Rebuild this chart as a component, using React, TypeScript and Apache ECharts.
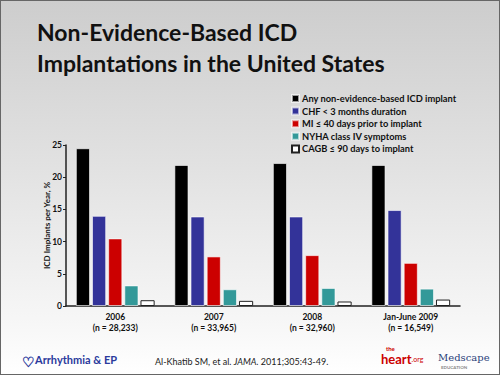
import React, { useEffect, useRef } from "react";
import * as echarts from "echarts";

const categories = ["2006\n(n = 28,233)", "2007\n(n = 33,965)", "2008\n(n = 32,960)", "Jan-June 2009\n(n = 16,549)"];
const seriesNames = [
  "Any non-evidence-based ICD implant",
  "CHF < 3 months duration",
  "MI \u2264 40 days prior to implant",
  "NYHA class IV symptoms",
  "CAGB \u2264 90 days to implant",
];
const anyNonEvidence = [24.5, 21.9, 22.2, 21.9];
const chfShort = [14.0, 13.9, 13.9, 14.9];
const miRecent = [10.5, 7.7, 7.9, 6.7];
const nyhaIV = [3.2, 2.6, 2.8, 2.7];
const cabgRecent = [0.9, 0.8, 0.7, 1.0];
const seriesValues = [anyNonEvidence, chfShort, miRecent, nyhaIV, cabgRecent];
const seriesColors = ["#000000", "#333399", "#cc0000", "#339999", "#ffffff"];

const FONT = "Lato, 'Open Sans', sans-serif";

export default function App() {
  const ref = useRef<HTMLDivElement>(null);
  useEffect(() => {
    if (!ref.current) return;
    const chart = echarts.init(ref.current, undefined, { renderer: "svg" });
    chart.setOption({
      animation: false,
      textStyle: { fontFamily: FONT },
      grid: { left: 66, right: 40, top: 145, bottom: 69 },
      legend: {
        orient: "vertical",
        left: 286,
        top: 89,
        itemWidth: 7,
        itemHeight: 7,
        itemGap: 3.6,
        icon: "rect",
        textStyle: { fontFamily: FONT, fontSize: 9.3, fontWeight: "bold", color: "#111", padding: [0, 0, 0, -2] },
        data: seriesNames,
      },
      xAxis: {
        type: "category",
        data: categories,
        axisLine: { lineStyle: { color: "#222", width: 1.5 } },
        axisTick: { show: false },
        axisLabel: { fontFamily: FONT, fontSize: 8.5, fontWeight: "bold", color: "#111", lineHeight: 11, margin: 5 },
      },
      yAxis: {
        type: "value",
        min: 0,
        max: 25,
        interval: 5,
        name: "ICD Implants per Year, %",
        nameLocation: "middle",
        nameGap: 15,
        nameMoveOverlap: false,
        nameTextStyle: { fontFamily: FONT, fontSize: 8, fontWeight: "bold", color: "#111" },
        axisLine: { show: true, lineStyle: { color: "#222", width: 1.5 } },
        axisTick: { show: true, length: 3, lineStyle: { color: "#222" } },
        splitLine: { show: false },
        axisLabel: { fontFamily: FONT, fontSize: 8.5, fontWeight: "bold", color: "#111", margin: 4 },
      },
      series: seriesNames.map((name, i) => ({
        name,
        type: "bar",
        data: seriesValues[i],
        barGap: "14%",
        barCategoryGap: "20%",
        itemStyle: {
          color: seriesColors[i],
          borderColor: i === 4 ? "#222" : "rgba(255,255,255,0.6)",
          borderWidth: 1,
        },
      })),
      graphic: [
        {
          type: "text",
          left: 37,
          top: 16,
          style: {
            text: "Non-Evidence-Based ICD\nImplantations in the United States",
            font: `bold 23px ${FONT}`,
            fill: "#111",
            lineHeight: 31,
          },
        },
        {
          type: "text",
          left: 22,
          top: 354,
          style: { text: "\u2661", font: `bold 14px ${FONT}`, fill: "#2b3a9c" },
        },
        {
          type: "text",
          left: 35,
          top: 354,
          style: { text: "Arrhythmia & EP", font: `bold 11px ${FONT}`, fill: "#2b3a9c" },
        },
        {
          type: "text",
          left: 155,
          top: 357,
          style: {
            text: "{a|Al-Khatib SM, et al. }{i|JAMA}{a|. 2011;305:43-49.}",
            rich: {
              a: { fontFamily: FONT, fontSize: 9, fill: "#222" },
              i: { fontFamily: FONT, fontSize: 9, fontStyle: "italic", fill: "#222" },
            },
          },
        },
        {
          type: "text",
          left: 386,
          top: 345,
          style: { text: "the", font: `bold 6px ${FONT}`, fill: "#cc0000" },
        },
        {
          type: "text",
          left: 381,
          top: 352,
          style: {
            text: "{h|heart}{o|.org}",
            rich: {
              h: { fontFamily: FONT, fontSize: 13, fontWeight: "bold", fill: "#cc0000" },
              o: { fontFamily: FONT, fontSize: 7, fill: "#cc0000" },
            },
          },
        },
        {
          type: "text",
          left: 438,
          top: 352,
          style: { text: "Medscape", font: `10px 'DejaVu Serif', serif`, fill: "#2b3f7a" },
        },
        {
          type: "text",
          left: 441,
          top: 365,
          style: { text: "EDUCATION", font: `bold 4.5px ${FONT}`, fill: "#888" },
        },
      ],
    });
    return () => chart.dispose();
  }, []);
  return (
    <div
      style={{
        position: "fixed",
        left: 0,
        top: 0,
        width: 500,
        height: 375,
        boxSizing: "border-box",
        border: "1px solid #666",
        background: "linear-gradient(to bottom, #cdcdcd 0%, #e2e2e2 45%, #f6f6f6 85%, #ffffff 100%)",
      }}
    >
      <div ref={ref} style={{ position: "absolute", left: -1, top: -1, width: 500, height: 375 }} />
    </div>
  );
}
